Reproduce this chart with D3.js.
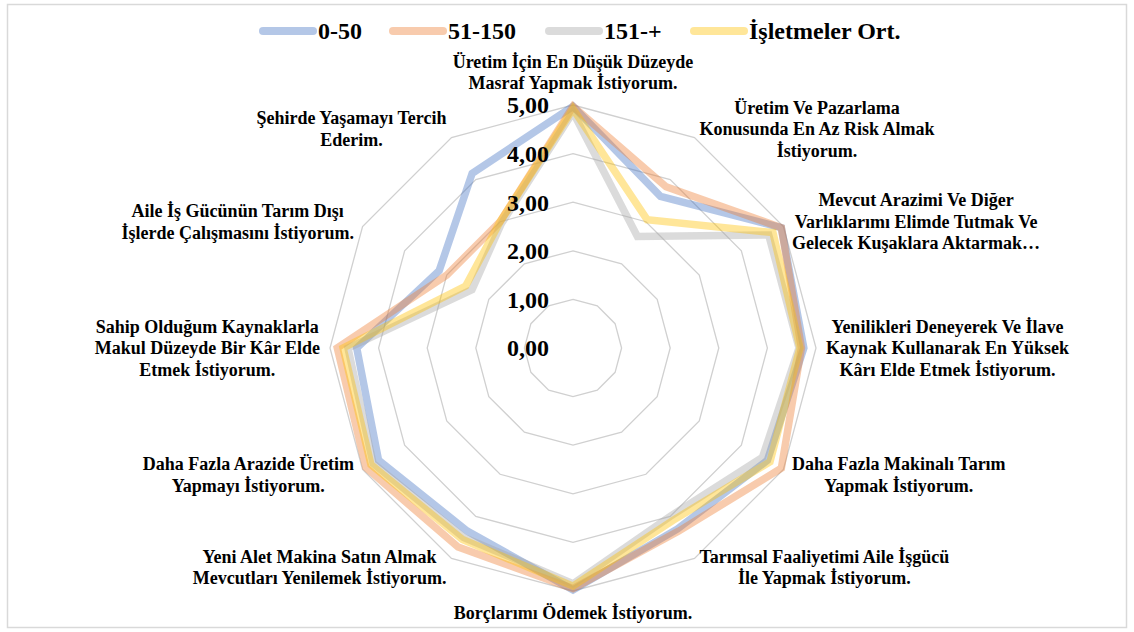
<!DOCTYPE html>
<html>
<head>
<meta charset="utf-8">
<script src="https://cdn.jsdelivr.net/npm/d3@7"></script>
<style>
  body { margin: 0; background: #fff; }
</style>
</head>
<body>
<div id="radar-chart"></div>
<script>
// axis labels (one entry per spoke, each broken into its printed lines)
const axisLabels = [
  ["Üretim İçin En Düşük Düzeyde", "Masraf Yapmak İstiyorum."],
  ["Üretim Ve Pazarlama", "Konusunda En Az Risk Almak", "İstiyorum."],
  ["Mevcut Arazimi Ve Diğer", "Varlıklarımı Elimde Tutmak Ve", "Gelecek Kuşaklara Aktarmak…"],
  ["Yenilikleri Deneyerek Ve İlave", "Kaynak Kullanarak En Yüksek", "Kârı Elde Etmek İstiyorum."],
  ["Daha Fazla Makinalı Tarım", "Yapmak İstiyorum."],
  ["Tarımsal Faaliyetimi Aile İşgücü", "İle Yapmak İstiyorum."],
  ["Borçlarımı Ödemek İstiyorum."],
  ["Yeni Alet Makina Satın Almak", "Mevcutları Yenilemek İstiyorum."],
  ["Daha Fazla Arazide Üretim", "Yapmayı İstiyorum."],
  ["Sahip Olduğum Kaynaklarla", "Makul Düzeyde Bir Kâr Elde", "Etmek İstiyorum."],
  ["Aile İş Gücünün Tarım Dışı", "İşlerde Çalışmasını İstiyorum."],
  ["Şehirde Yaşamayı Tercih", "Ederim."]
];

const seriesNames = ["0-50", "51-150", "151-+", "İşletmeler Ort."];

const values0_50   = [4.97, 3.60, 4.95, 4.75, 4.62, 4.30, 4.98, 4.35, 4.62, 4.45, 3.18, 4.15];
const values51_150 = [4.97, 3.83, 4.95, 4.70, 4.95, 4.35, 4.95, 4.73, 4.92, 4.85, 3.00, 3.00];
const values151    = [4.85, 2.65, 4.65, 4.65, 4.50, 4.00, 4.85, 4.50, 4.75, 4.63, 2.40, 2.95];
const valuesOrt    = [4.92, 3.05, 4.75, 4.67, 4.68, 4.10, 4.90, 4.55, 4.80, 4.73, 2.55, 3.00];

const tickValues = [0, 1, 2, 3, 4, 5];
const tickLabels = ["0,00", "1,00", "2,00", "3,00", "4,00", "5,00"];

const seriesColors = ["#4472c4", "#ed7d31", "#a5a5a5", "#ffc000"];

const fontStack = "'Liberation Serif', 'Times New Roman', 'DejaVu Serif', serif";

class RadarChart {

  constructor(_series) {
    this.width = 1134;
    this.height = 632;
    this.cx = 573;
    this.cy = 348;
    this.radius = 243;
    this.series = _series;
    this.initVis();
  }

  initVis() {
    let vis = this;

    vis.svg = d3.select("#radar-chart")
      .append("svg")
        .attr("width", vis.width)
        .attr("height", vis.height)
        .attr("font-family", fontStack)
        .attr("font-weight", "bold");

    // chart frame
    vis.svg.append("rect")
      .attr("x", 7.5).attr("y", 4.5)
      .attr("width", vis.width - 15).attr("height", vis.height - 9)
      .attr("fill", "#fff")
      .attr("stroke", "#d9d9d9")
      .attr("stroke-width", 1.5);

    vis.g = vis.svg.append("g")
      .attr("transform", "translate(" + vis.cx + "," + vis.cy + ")");

    vis.rScale = d3.scaleLinear().domain([0, 5]).range([0, vis.radius]);
    vis.angle = d3.scalePoint()
      .domain(d3.range(axisLabels.length))
      .range([0, 2 * Math.PI * (axisLabels.length - 1) / axisLabels.length]);

    vis.line = d3.lineRadial()
      .angle((d, i) => vis.angle(i))
      .radius(d => vis.rScale(d))
      .curve(d3.curveLinearClosed);

    vis.renderVis();
  }

  renderVis() {
    let vis = this;
    const n = axisLabels.length;

    // grid rings
    vis.g.append("g")
      .selectAll("path")
      .data(tickValues.filter(t => t > 0))
      .join("path")
        .attr("d", t => vis.line(d3.range(n).map(() => t)))
        .attr("fill", "none")
        .attr("stroke", "#d0d0d0")
        .attr("stroke-width", 1.3);

    // series
    vis.g.append("g")
      .selectAll("path")
      .data(vis.series)
      .join("path")
        .attr("d", d => vis.line(d.values))
        .attr("fill", "none")
        .attr("stroke", d => d.color)
        .attr("stroke-opacity", 0.4)
        .attr("stroke-width", 7.5)
        .attr("stroke-linejoin", "miter");

    // tick labels
    vis.g.append("g")
      .selectAll("text")
      .data(tickValues)
      .join("text")
        .attr("x", -24)
        .attr("y", t => -vis.rScale(t))
        .attr("dy", "0.35em")
        .attr("text-anchor", "end")
        .attr("font-size", 24)
        .text((t, i) => tickLabels[i]);

    // axis labels
    const lineH = 21.5;
    const labelG = vis.g.append("g");
    axisLabels.forEach((lines, i) => {
      const a = vis.angle(i);
      const sx = Math.sin(a), cy = -Math.cos(a);
      const txt = labelG.append("text")
        .attr("text-anchor", "middle")
        .attr("font-size", 18);
      const spans = txt.selectAll("tspan")
        .data(lines)
        .join("tspan")
          .text(d => d);
      const maxW = d3.max(spans.nodes(), s => s.getComputedTextLength());

      let x, y0;
      if (Math.abs(sx) < 0.01) {
        x = 0;
        if (cy < 0) y0 = -(vis.radius + 22) - (lines.length - 1) * lineH;
        else y0 = vis.radius + 22;
      } else {
        const r = vis.radius + 10;
        const ax = r * sx, ay = r * cy;
        x = sx > 0 ? ax + maxW / 2 : ax - maxW / 2;
        y0 = ay - (lines.length - 1) * lineH / 2;
      }
      spans.attr("x", x)
        .attr("y", (d, j) => y0 + j * lineH)
        .attr("dy", "0.35em");
    });

    // legend
    const legendX = [259, 389, 545, 690];
    const legend = vis.svg.append("g").attr("class", "legend");
    vis.series.forEach((s, i) => {
      legend.append("line")
        .attr("x1", legendX[i] + 4).attr("x2", legendX[i] + 54)
        .attr("y1", 31).attr("y2", 31)
        .attr("stroke", s.color)
        .attr("stroke-opacity", 0.4)
        .attr("stroke-width", 8)
        .attr("stroke-linecap", "round");
      legend.append("text")
        .attr("x", legendX[i] + 59)
        .attr("y", 31)
        .attr("dy", "0.35em")
        .attr("font-size", 24)
        .text(s.name);
    });
  }
}

const seriesData = [values0_50, values51_150, values151, valuesOrt].map((v, i) => ({
  name: seriesNames[i],
  color: seriesColors[i],
  values: v
}));

new RadarChart(seriesData);
</script>
</body>
</html>
